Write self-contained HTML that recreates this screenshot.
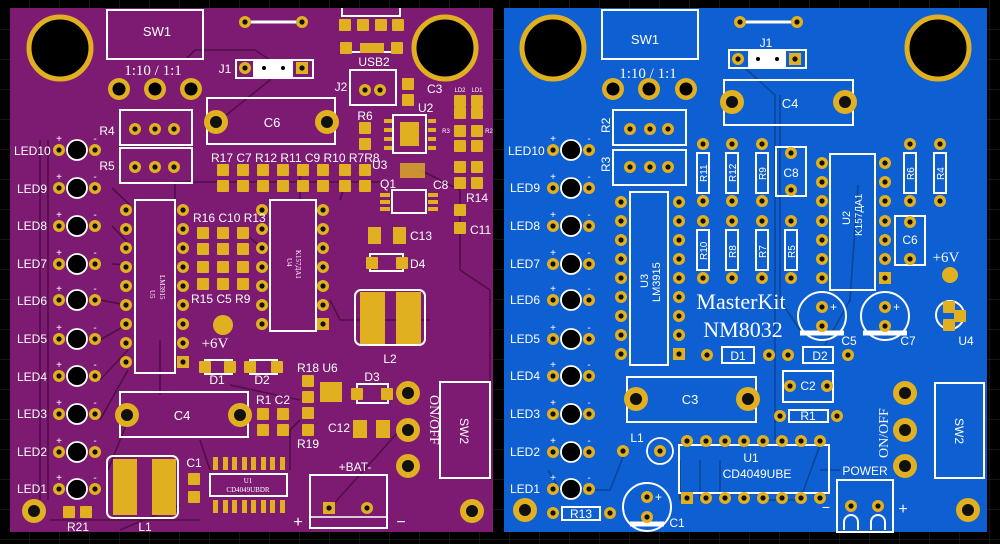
<!DOCTYPE html>
<html><head><meta charset="utf-8"><style>
html,body{margin:0;padding:0;background:#000;width:1000px;height:544px;overflow:hidden}
svg{display:block}
text{font-family:"Liberation Sans","Noto Sans CJK SC",sans-serif;fill:#fff}
.s{font-family:"Liberation Serif",serif}
.sk{fill:none;stroke:#fff;stroke-width:2}
.tr{fill:none;stroke-width:1.6}
</style></head><body>
<svg width="1000" height="544" viewBox="0 0 1000 544" xmlns="http://www.w3.org/2000/svg">
<defs>
<pattern id="g" width="30" height="30" patternUnits="userSpaceOnUse"><path d="M30 0V30H0" fill="none" stroke="#2a2a2a" stroke-width="1"/></pattern>
<g id="p"><circle r="6" fill="#e0b020"/><circle r="2.6" fill="#111"/></g>
<g id="pb"><circle r="11" fill="#e0b020"/><circle r="6.5" fill="#000"/></g>
<g id="sq"><rect x="-6" y="-6" width="12" height="12" fill="#e0b020"/><circle r="2.6" fill="#111"/></g>
<g id="sm"><rect x="-6" y="-6" width="12" height="12" rx="1" fill="#e0b020"/></g>
<g id="hole"><circle r="31" fill="#000" stroke="#e0b020" stroke-width="5"/></g>
<g id="hs"><circle r="12" fill="#e0b020"/><circle r="6" fill="#111"/></g>
<g id="led"><use href="#p" x="-18"/><circle r="10" fill="#000" stroke="#fff" stroke-width="1.8"/><use href="#p" x="18"/><text x="-18" y="-8" font-size="10" text-anchor="middle">+</text><text x="18" y="-8" font-size="10" text-anchor="middle">-</text></g>
</defs>
<rect width="1000" height="544" fill="#000"/>
<rect width="1000" height="544" fill="url(#g)"/>

<!-- LEFT BOARD -->
<rect x="10" y="8" width="483" height="524" fill="#7d1b72"/>
<g stroke="#4e0f47" class="tr">
<path d="M40 140V500M48 140V500M185 60L195 50H255L270 60L270 80L220 120M112 188L130 205M112 226L130 245M112 264L130 265M100 300L126 305M100 340L126 325M100 380L128 350M100 420L128 370M160 340V395M175 200V182L215 182H380M300 200V170M340 200L345 185M420 170L460 190L460 270L490 290V480M240 230L265 250M330 300L340 320H430M128 420L108 470M200 440L210 470M290 470L290 430L300 420M230 385L300 400M400 430L330 508M180 505L120 530M50 520H200"/>
</g>
<use href="#hole" x="60" y="48"/><use href="#hole" x="445" y="48"/>
<use href="#hs" x="34" y="511"/><use href="#hs" x="472" y="511"/>
<rect x="107" y="10" width="96" height="49" class="sk"/><text x="157" y="36" font-size="13" text-anchor="middle">SW1</text>
<line x1="245" y1="22" x2="302" y2="22" stroke="#fff" stroke-width="3"/><use href="#p" x="245" y="22"/><use href="#p" x="302" y="22"/>
<path d="M342 8v8h58v-8M342 48v4h58v-4" class="sk" stroke-width="1.5"/>
<use href="#sm" x="345" y="25"/><use href="#sm" x="363" y="25"/><use href="#sm" x="381" y="25"/><use href="#sm" x="398" y="25"/>
<use href="#sm" x="346" y="48"/><use href="#sm" x="397" y="48"/><rect x="360" y="43" width="24" height="10" fill="#e0b020"/>
<text x="374" y="66" font-size="12" text-anchor="middle">USB2</text>
<text x="153" y="75" font-size="15" class="s" text-anchor="middle">1:10 / 1:1</text>
<use href="#pb" x="119" y="89"/><use href="#pb" x="155" y="89"/><use href="#pb" x="191" y="89"/>
<text x="225" y="73" font-size="12" text-anchor="middle">J1</text>
<rect x="236" y="60" width="77" height="18" class="sk"/><rect x="253" y="61" width="40" height="16" fill="#fff"/>
<circle cx="264" cy="68" r="2" fill="#000"/><circle cx="283" cy="68" r="2" fill="#000"/>
<use href="#p" x="245" y="68"/><use href="#sq" x="302" y="68"/>
<text x="341" y="91" font-size="12" text-anchor="middle">J2</text>
<rect x="350" y="70" width="46" height="35" class="sk"/><use href="#p" x="365" y="90"/><use href="#p" x="380" y="90"/>
<use href="#sm" x="408" y="84"/><use href="#sm" x="408" y="100"/><text x="427" y="93" font-size="12">C3</text>
<text x="418" y="112" font-size="12">U2</text>
<rect x="393" y="115" width="33" height="38" class="sk"/><rect x="400" y="122" width="19" height="24" fill="#e0b020"/>
<g fill="#e0b020"><rect x="384" y="119" width="8" height="4"/><rect x="384" y="128" width="8" height="4"/><rect x="384" y="137" width="8" height="4"/><rect x="384" y="146" width="8" height="4"/><rect x="428" y="119" width="8" height="4"/><rect x="428" y="128" width="8" height="4"/><rect x="428" y="137" width="8" height="4"/><rect x="428" y="146" width="8" height="4"/></g>
<use href="#sm" x="365" y="128"/><use href="#sm" x="365" y="144"/><text x="365" y="120" font-size="12" text-anchor="middle">R6</text>
<text x="460" y="92" font-size="6" text-anchor="middle">LD2</text><text x="477" y="92" font-size="6" text-anchor="middle">LD1</text>
<use href="#sm" x="460" y="101"/><use href="#sm" x="477" y="101"/><use href="#sm" x="460" y="113"/><use href="#sm" x="477" y="113"/>
<text x="446" y="133" font-size="6" text-anchor="middle">R3</text><text x="489" y="133" font-size="6" text-anchor="middle">R2</text>
<use href="#sm" x="460" y="131"/><use href="#sm" x="477" y="131"/><use href="#sm" x="460" y="146"/><use href="#sm" x="477" y="146"/>
<use href="#sm" x="460" y="167"/><use href="#sm" x="477" y="167"/><use href="#sm" x="460" y="183"/><use href="#sm" x="477" y="183"/>
<text x="433" y="189" font-size="12">C8</text><text x="466" y="202" font-size="12">R14</text>
<use href="#sm" x="460" y="210"/><use href="#sm" x="460" y="228"/><text x="470" y="234" font-size="12">C11</text>
<text x="372" y="169" font-size="12">U3</text><rect x="400" y="163" width="25" height="15" fill="#e0b020" opacity=".8"/>
<text x="380" y="188" font-size="12">Q1</text><rect x="392" y="190" width="34" height="23" class="sk"/>
<g fill="#e0b020"><rect x="380" y="193" width="10" height="4"/><rect x="380" y="200" width="10" height="4"/><rect x="380" y="207" width="10" height="4"/><rect x="428" y="193" width="10" height="4"/><rect x="428" y="200" width="10" height="4"/><rect x="428" y="207" width="10" height="4"/></g>
<rect x="207" y="98" width="128" height="46" class="sk"/><use href="#hs" x="216" y="122"/><use href="#hs" x="327" y="122"/><text x="272" y="127" font-size="13" text-anchor="middle">C6</text>
<rect x="120" y="110" width="72" height="35" class="sk"/><use href="#p" x="135" y="129"/><use href="#p" x="155" y="129"/><use href="#p" x="174" y="129"/><text x="107" y="135" font-size="12" text-anchor="middle">R4</text>
<rect x="120" y="148" width="72" height="35" class="sk"/><use href="#p" x="135" y="167"/><use href="#p" x="155" y="167"/><use href="#p" x="174" y="167"/><text x="107" y="170" font-size="12" text-anchor="middle">R5</text>
<text x="211" y="162" font-size="12">R17 C7 R12 R11 C9 R10 R7R8</text>
<g><use href="#sm" x="223" y="170"/><use href="#sm" x="243" y="170"/><use href="#sm" x="263" y="170"/><use href="#sm" x="283" y="170"/><use href="#sm" x="303" y="170"/><use href="#sm" x="323" y="170"/><use href="#sm" x="345" y="170"/><use href="#sm" x="365" y="170"/>
<use href="#sm" x="223" y="186"/><use href="#sm" x="243" y="186"/><use href="#sm" x="263" y="186"/><use href="#sm" x="283" y="186"/><use href="#sm" x="303" y="186"/><use href="#sm" x="323" y="186"/><use href="#sm" x="345" y="186"/><use href="#sm" x="365" y="186"/></g>
<rect x="368" y="227" width="13" height="17" fill="#e0b020"/><rect x="393" y="227" width="13" height="17" fill="#e0b020"/><text x="410" y="240" font-size="12">C13</text>
<rect x="370" y="254" width="33" height="17" class="sk" stroke-width="1.5"/><use href="#sm" x="372" y="263"/><use href="#sm" x="402" y="263"/><text x="410" y="268" font-size="12">D4</text>
<!-- LEDs -->
<g font-size="12">
<text x="14" y="155">LED10</text><use href="#led" x="77" y="150"/>
<text x="17" y="193">LED9</text><use href="#led" x="77" y="188"/>
<text x="17" y="230">LED8</text><use href="#led" x="77" y="226"/>
<text x="17" y="268">LED7</text><use href="#led" x="77" y="264"/>
<text x="17" y="305">LED6</text><use href="#led" x="77" y="300"/>
<text x="17" y="343">LED5</text><use href="#led" x="77" y="339"/>
<text x="17" y="381">LED4</text><use href="#led" x="77" y="376"/>
<text x="17" y="418">LED3</text><use href="#led" x="77" y="414"/>
<text x="17" y="456">LED2</text><use href="#led" x="77" y="452"/>
<text x="17" y="493">LED1</text><use href="#led" x="77" y="489"/>
</g>
<!-- U5 -->
<rect x="135" y="200" width="40" height="173" class="sk"/>
<g><use href="#p" x="126" y="210"/><use href="#p" x="126" y="229"/><use href="#p" x="126" y="248"/><use href="#p" x="126" y="267"/><use href="#p" x="126" y="286"/><use href="#p" x="126" y="305"/><use href="#p" x="126" y="324"/><use href="#p" x="126" y="343"/><use href="#p" x="126" y="362"/>
<use href="#p" x="183" y="210"/><use href="#p" x="183" y="229"/><use href="#p" x="183" y="248"/><use href="#p" x="183" y="267"/><use href="#p" x="183" y="286"/><use href="#p" x="183" y="305"/><use href="#p" x="183" y="324"/><use href="#p" x="183" y="343"/><use href="#sq" x="183" y="362"/></g>
<text transform="translate(150,290) rotate(90)" font-size="7" class="s">U5</text><text transform="translate(160,275) rotate(90)" font-size="7" class="s">LM3915</text>
<!-- U4 -->
<rect x="270" y="200" width="46" height="131" class="sk"/>
<g><use href="#p" x="262" y="210"/><use href="#p" x="262" y="229"/><use href="#p" x="262" y="248"/><use href="#p" x="262" y="267"/><use href="#p" x="262" y="286"/><use href="#p" x="262" y="305"/><use href="#p" x="262" y="324"/>
<use href="#p" x="323" y="210"/><use href="#p" x="323" y="229"/><use href="#p" x="323" y="248"/><use href="#p" x="323" y="267"/><use href="#p" x="323" y="286"/><use href="#p" x="323" y="305"/><use href="#sq" x="323" y="324"/></g>
<text transform="translate(287,258) rotate(90)" font-size="7" class="s">U4</text><text transform="translate(296,250) rotate(90)" font-size="7" class="s">K157ДA1</text>
<text x="193" y="222" font-size="12">R16 C10 R13</text>
<g><use href="#sm" x="203" y="233"/><use href="#sm" x="223" y="233"/><use href="#sm" x="243" y="233"/><use href="#sm" x="203" y="249"/><use href="#sm" x="223" y="249"/><use href="#sm" x="243" y="249"/><use href="#sm" x="203" y="267"/><use href="#sm" x="223" y="267"/><use href="#sm" x="243" y="267"/><use href="#sm" x="203" y="284"/><use href="#sm" x="223" y="284"/><use href="#sm" x="243" y="284"/></g>
<text x="191" y="303" font-size="12">R15 C5 R9</text>
<circle cx="223" cy="325" r="10" fill="#e0b020"/><text x="215" y="348" font-size="15" class="s" text-anchor="middle">+6V</text>
<rect x="205" y="360" width="27" height="14" class="sk" stroke-width="1.5"/><use href="#sm" x="205" y="367"/><use href="#sm" x="230" y="367"/><text x="217" y="384" font-size="12" text-anchor="middle">D1</text>
<rect x="250" y="360" width="27" height="14" class="sk" stroke-width="1.5"/><use href="#sm" x="250" y="367"/><use href="#sm" x="277" y="367"/><text x="262" y="384" font-size="12" text-anchor="middle">D2</text>
<rect x="120" y="392" width="128" height="45" class="sk"/><use href="#hs" x="127" y="415"/><use href="#hs" x="240" y="415"/><text x="182" y="420" font-size="13" text-anchor="middle">C4</text>
<text x="256" y="404" font-size="12">R1 C2</text>
<use href="#sm" x="263" y="414"/><use href="#sm" x="283" y="414"/><use href="#sm" x="263" y="430"/><use href="#sm" x="283" y="430"/>
<text x="297" y="372" font-size="12">R18 U6</text>
<use href="#sm" x="308" y="381"/><use href="#sm" x="308" y="397"/><use href="#sm" x="308" y="413"/><use href="#sm" x="308" y="430"/><text x="308" y="448" font-size="12" text-anchor="middle">R19</text>
<rect x="320" y="382" width="22" height="20" fill="#e0b020"/>
<text x="372" y="381" font-size="12" text-anchor="middle">D3</text><rect x="357" y="384" width="31" height="19" class="sk" stroke-width="1.5"/><use href="#sm" x="357" y="394"/><use href="#sm" x="387" y="394"/>
<rect x="355" y="290" width="70" height="55" rx="6" class="sk" stroke-width="1.5"/><rect x="360" y="292" width="25" height="52" fill="#e0b020"/><rect x="396" y="292" width="25" height="52" fill="#e0b020"/><text x="390" y="363" font-size="12" text-anchor="middle">L2</text>
<text x="328" y="432" font-size="12">C12</text><rect x="353" y="420" width="14" height="18" fill="#e0b020"/><rect x="376" y="420" width="14" height="18" fill="#e0b020"/>
<use href="#hs" x="408" y="393"/><use href="#hs" x="408" y="430"/><use href="#hs" x="408" y="466"/>
<text transform="translate(430,395) rotate(90)" font-size="14" class="s">ON/OFF</text>
<rect x="440" y="382" width="50" height="96" class="sk"/><text transform="translate(460,418) rotate(90)" font-size="12">SW2</text>
<text x="355" y="471" font-size="12" text-anchor="middle">+BAT-</text>
<rect x="310" y="475" width="77" height="53" class="sk"/><line x1="310" y1="517" x2="387" y2="517" stroke="#fff" stroke-width="1.5"/>
<use href="#sq" x="329" y="508"/><use href="#p" x="367" y="508"/>
<text x="298" y="527" font-size="16" text-anchor="middle">+</text><text x="401" y="527" font-size="16" text-anchor="middle">−</text>
<rect x="210" y="474" width="77" height="22" class="sk" stroke-width="1.5"/>
<g fill="#e0b020"><rect x="213" y="457" width="5" height="13"/><rect x="223" y="457" width="5" height="13"/><rect x="232" y="457" width="5" height="13"/><rect x="242" y="457" width="5" height="13"/><rect x="251" y="457" width="5" height="13"/><rect x="261" y="457" width="5" height="13"/><rect x="270" y="457" width="5" height="13"/><rect x="280" y="457" width="5" height="13"/>
<rect x="213" y="500" width="5" height="13"/><rect x="223" y="500" width="5" height="13"/><rect x="232" y="500" width="5" height="13"/><rect x="242" y="500" width="5" height="13"/><rect x="251" y="500" width="5" height="13"/><rect x="261" y="500" width="5" height="13"/><rect x="270" y="500" width="5" height="13"/><rect x="280" y="500" width="5" height="13"/></g>
<text x="248" y="483" font-size="7" class="s" text-anchor="middle">U1</text><text x="248" y="492" font-size="7" class="s" text-anchor="middle">CD4049UBDR</text>
<text x="194" y="467" font-size="12" text-anchor="middle">C1</text><use href="#sm" x="194" y="479"/><use href="#sm" x="194" y="497"/>
<rect x="107" y="456" width="71" height="62" rx="6" class="sk" stroke-width="1.5"/><rect x="113" y="459" width="24" height="56" fill="#e0b020"/><rect x="152" y="459" width="24" height="56" fill="#e0b020"/><text x="145" y="531" font-size="12" text-anchor="middle">L1</text>
<use href="#sm" x="69" y="512"/><use href="#sm" x="86" y="512"/><text x="78" y="531" font-size="12" text-anchor="middle">R21</text>

<!-- RIGHT BOARD -->
<rect x="504" y="8" width="483" height="524" fill="#0d5fd2"/>
<g stroke="#0a4599" class="tr">
<path d="M745 68L775 95V440M780 95V300L800 330M858 185L850 300L825 345M548 470L560 490H610L625 452M680 460V500M700 460V500M720 460V500M760 500H800L820 445M820 470H840"/>
</g>
<use href="#hole" x="553" y="48"/><use href="#hole" x="938" y="48"/>
<use href="#hs" x="525" y="510"/><use href="#hs" x="968" y="510"/>
<rect x="602" y="10" width="96" height="49" class="sk"/><text x="645" y="44" font-size="13" text-anchor="middle">SW1</text>
<line x1="740" y1="22" x2="797" y2="22" stroke="#fff" stroke-width="3"/><use href="#p" x="740" y="22"/><use href="#p" x="797" y="22"/>
<text x="766" y="47" font-size="12" text-anchor="middle">J1</text>
<rect x="729" y="50" width="77" height="18" class="sk"/><rect x="748" y="51" width="38" height="16" fill="#fff"/>
<circle cx="758" cy="59" r="2" fill="#000"/><circle cx="777" cy="59" r="2" fill="#000"/>
<use href="#p" x="738" y="59"/><use href="#sq" x="795" y="59"/>
<text x="648" y="78" font-size="15" class="s" text-anchor="middle">1:10 / 1:1</text>
<use href="#pb" x="613" y="89"/><use href="#pb" x="649" y="89"/><use href="#pb" x="686" y="89"/>
<rect x="724" y="80" width="129" height="45" class="sk"/><use href="#hs" x="732" y="102"/><use href="#hs" x="845" y="102"/><text x="790" y="108" font-size="13" text-anchor="middle">C4</text>
<rect x="613" y="110" width="73" height="35" class="sk"/><use href="#p" x="630" y="129"/><use href="#p" x="650" y="129"/><use href="#p" x="668" y="129"/><text transform="translate(610,133) rotate(-90)" font-size="12">R2</text>
<rect x="613" y="150" width="73" height="35" class="sk"/><use href="#p" x="630" y="167"/><use href="#p" x="650" y="167"/><use href="#p" x="668" y="167"/><text transform="translate(610,172) rotate(-90)" font-size="12">R3</text>
<g font-size="12">
<text x="508" y="155">LED10</text><use href="#led" x="571" y="150"/>
<text x="510" y="192">LED9</text><use href="#led" x="571" y="188"/>
<text x="510" y="230">LED8</text><use href="#led" x="571" y="226"/>
<text x="510" y="268">LED7</text><use href="#led" x="571" y="264"/>
<text x="510" y="304">LED6</text><use href="#led" x="571" y="300"/>
<text x="510" y="343">LED5</text><use href="#led" x="571" y="339"/>
<text x="510" y="380">LED4</text><use href="#led" x="571" y="376"/>
<text x="510" y="418">LED3</text><use href="#led" x="571" y="414"/>
<text x="510" y="456">LED2</text><use href="#led" x="571" y="452"/>
<text x="510" y="493">LED1</text><use href="#led" x="571" y="489"/>
</g>
<!-- vertical resistors -->
<g>
<rect x="697" y="153" width="12" height="40" class="sk" stroke-width="1.5"/><use href="#p" x="703" y="144"/><use href="#p" x="703" y="201"/>
<rect x="726" y="153" width="12" height="40" class="sk" stroke-width="1.5"/><use href="#p" x="732" y="144"/><use href="#p" x="732" y="201"/>
<rect x="756" y="153" width="12" height="40" class="sk" stroke-width="1.5"/><use href="#p" x="762" y="144"/><use href="#p" x="762" y="201"/>
<rect x="697" y="230" width="12" height="40" class="sk" stroke-width="1.5"/><use href="#p" x="703" y="221"/><use href="#p" x="703" y="278"/>
<rect x="726" y="230" width="12" height="40" class="sk" stroke-width="1.5"/><use href="#p" x="732" y="221"/><use href="#p" x="732" y="278"/>
<rect x="756" y="230" width="12" height="40" class="sk" stroke-width="1.5"/><use href="#p" x="762" y="221"/><use href="#p" x="762" y="278"/>
<rect x="785" y="230" width="12" height="40" class="sk" stroke-width="1.5"/><use href="#p" x="791" y="221"/><use href="#p" x="791" y="278"/>
<rect x="904" y="153" width="12" height="40" class="sk" stroke-width="1.5"/><use href="#p" x="910" y="144"/><use href="#p" x="910" y="201"/>
<rect x="934" y="153" width="12" height="40" class="sk" stroke-width="1.5"/><use href="#p" x="940" y="144"/><use href="#p" x="940" y="201"/>
</g>
<g font-size="10">
<text transform="translate(707,182) rotate(-90)">R11</text><text transform="translate(736,182) rotate(-90)">R12</text><text transform="translate(766,180) rotate(-90)">R9</text>
<text transform="translate(707,260) rotate(-90)">R10</text><text transform="translate(736,258) rotate(-90)">R8</text><text transform="translate(766,258) rotate(-90)">R7</text><text transform="translate(795,258) rotate(-90)">R5</text>
<text transform="translate(914,180) rotate(-90)">R6</text><text transform="translate(944,180) rotate(-90)">R4</text>
</g>
<rect x="776" y="147" width="30" height="49" class="sk"/><use href="#p" x="791" y="153"/><use href="#p" x="791" y="190"/><text x="791" y="177" font-size="12" text-anchor="middle">C8</text>
<rect x="895" y="216" width="30" height="49" class="sk"/><use href="#p" x="910" y="222"/><use href="#p" x="910" y="259"/><text x="910" y="244" font-size="12" text-anchor="middle">C6</text>
<!-- U2 -->
<rect x="830" y="154" width="45" height="136" class="sk"/>
<g><use href="#p" x="822" y="163"/><use href="#p" x="822" y="182"/><use href="#p" x="822" y="201"/><use href="#p" x="822" y="221"/><use href="#p" x="822" y="240"/><use href="#p" x="822" y="259"/><use href="#p" x="822" y="278"/>
<use href="#p" x="885" y="163"/><use href="#p" x="885" y="182"/><use href="#p" x="885" y="201"/><use href="#p" x="885" y="221"/><use href="#p" x="885" y="240"/><use href="#p" x="885" y="259"/><use href="#sq" x="885" y="278"/></g>
<text transform="translate(850,225) rotate(-90)" font-size="11">U2</text><text transform="translate(862,236) rotate(-90)" font-size="10">K157ДA1</text>
<text x="946" y="262" font-size="15" class="s" text-anchor="middle">+6V</text><circle cx="950" cy="275" r="8" fill="#e0b020"/>
<!-- U3 -->
<rect x="630" y="192" width="38" height="173" class="sk"/>
<g><use href="#p" x="621" y="202"/><use href="#p" x="621" y="221"/><use href="#p" x="621" y="240"/><use href="#p" x="621" y="259"/><use href="#p" x="621" y="278"/><use href="#p" x="621" y="297"/><use href="#p" x="621" y="316"/><use href="#p" x="621" y="335"/><use href="#p" x="621" y="354"/>
<use href="#p" x="679" y="202"/><use href="#p" x="679" y="221"/><use href="#p" x="679" y="240"/><use href="#p" x="679" y="259"/><use href="#p" x="679" y="278"/><use href="#p" x="679" y="297"/><use href="#p" x="679" y="316"/><use href="#p" x="679" y="335"/><use href="#sq" x="679" y="354"/></g>
<text transform="translate(648,288) rotate(-90)" font-size="11">U3</text><text transform="translate(660,302) rotate(-90)" font-size="11">LM3915</text>
<text x="741" y="309" font-size="22" class="s" text-anchor="middle">MasterKit</text>
<text x="743" y="337" font-size="22" class="s" text-anchor="middle">NM8032</text>
<circle cx="822" cy="316" r="24" fill="none" stroke="#fff" stroke-width="2"/><path d="M800 333H844" stroke="#fff" stroke-width="5"/><use href="#p" x="822" y="307"/><use href="#p" x="822" y="326"/><text x="830" y="311" font-size="12">+</text><text x="849" y="345" font-size="12" text-anchor="middle">C5</text>
<circle cx="885" cy="316" r="24" fill="none" stroke="#fff" stroke-width="2"/><path d="M863 333H907" stroke="#fff" stroke-width="5"/><use href="#p" x="885" y="307"/><use href="#p" x="885" y="326"/><text x="893" y="311" font-size="12">+</text><text x="908" y="345" font-size="12" text-anchor="middle">C7</text>
<circle cx="950" cy="315" r="14" fill="none" stroke="#fff" stroke-width="2"/><use href="#sm" x="949" y="307"/><use href="#sm" x="960" y="316"/><use href="#sm" x="949" y="325"/><text x="966" y="345" font-size="12" text-anchor="middle">U4</text>
<rect x="722" y="347" width="32" height="16" class="sk"/><use href="#p" x="707" y="355"/><use href="#p" x="769" y="355"/><text x="738" y="360" font-size="12" text-anchor="middle">D1</text>
<rect x="803" y="347" width="30" height="16" class="sk"/><use href="#p" x="788" y="355"/><use href="#p" x="848" y="355"/><text x="820" y="360" font-size="12" text-anchor="middle">D2</text>
<rect x="783" y="371" width="50" height="31" class="sk"/><use href="#p" x="790" y="386"/><use href="#p" x="827" y="386"/><text x="808" y="390" font-size="12" text-anchor="middle">C2</text>
<rect x="627" y="377" width="129" height="45" class="sk"/><use href="#hs" x="636" y="399"/><use href="#hs" x="748" y="399"/><text x="690" y="404" font-size="13" text-anchor="middle">C3</text>
<rect x="789" y="410" width="39" height="12" class="sk"/><use href="#p" x="780" y="416"/><use href="#p" x="837" y="416"/><text x="808" y="420" font-size="12" text-anchor="middle">R1</text>
<use href="#hs" x="905" y="393"/><use href="#hs" x="905" y="430"/><use href="#hs" x="905" y="466"/>
<text transform="translate(888,458) rotate(-90)" font-size="14" class="s">ON/OFF</text>
<rect x="935" y="383" width="49" height="95" class="sk"/><text transform="translate(955,418) rotate(90)" font-size="12">SW2</text>
<!-- U1 -->
<rect x="679" y="445" width="150" height="48" class="sk"/>
<g><use href="#p" x="687" y="441"/><use href="#p" x="706" y="441"/><use href="#p" x="725" y="441"/><use href="#p" x="744" y="441"/><use href="#p" x="763" y="441"/><use href="#p" x="782" y="441"/><use href="#p" x="801" y="441"/><use href="#p" x="820" y="441"/>
<use href="#sq" x="687" y="498"/><use href="#p" x="706" y="498"/><use href="#p" x="725" y="498"/><use href="#p" x="744" y="498"/><use href="#p" x="763" y="498"/><use href="#p" x="782" y="498"/><use href="#p" x="801" y="498"/><use href="#p" x="820" y="498"/></g>
<text x="751" y="462" font-size="12" text-anchor="middle">U1</text><text x="757" y="478" font-size="12" text-anchor="middle">CD4049UBE</text>
<text x="637" y="442" font-size="12" text-anchor="middle">L1</text><use href="#p" x="623" y="451"/><circle cx="660" cy="451" r="13" fill="none" stroke="#fff" stroke-width="1.8"/><use href="#p" x="660" y="451"/>
<circle cx="647" cy="507" r="24" fill="none" stroke="#fff" stroke-width="2"/><path d="M630 524H664" stroke="#fff" stroke-width="5"/><use href="#p" x="647" y="497"/><use href="#p" x="647" y="517"/><text x="655" y="501" font-size="12">+</text><text x="677" y="527" font-size="12" text-anchor="middle">C1</text>
<rect x="562" y="507" width="38" height="13" class="sk"/><use href="#p" x="553" y="513"/><use href="#p" x="610" y="513"/><text x="581" y="518" font-size="12" text-anchor="middle">R13</text>
<text x="865" y="475" font-size="12" text-anchor="middle">POWER</text>
<rect x="837" y="480" width="56" height="52" class="sk"/>
<use href="#p" x="851" y="506"/><use href="#p" x="878" y="506"/>
<path d="M844 530v-8a7 7 0 0 1 14 0v8M871 530v-8a7 7 0 0 1 14 0v8" class="sk" stroke-width="1.5"/>
<text x="826" y="512" font-size="14" text-anchor="middle">−</text><text x="903" y="514" font-size="16" text-anchor="middle">+</text>
</svg>
</body></html>
